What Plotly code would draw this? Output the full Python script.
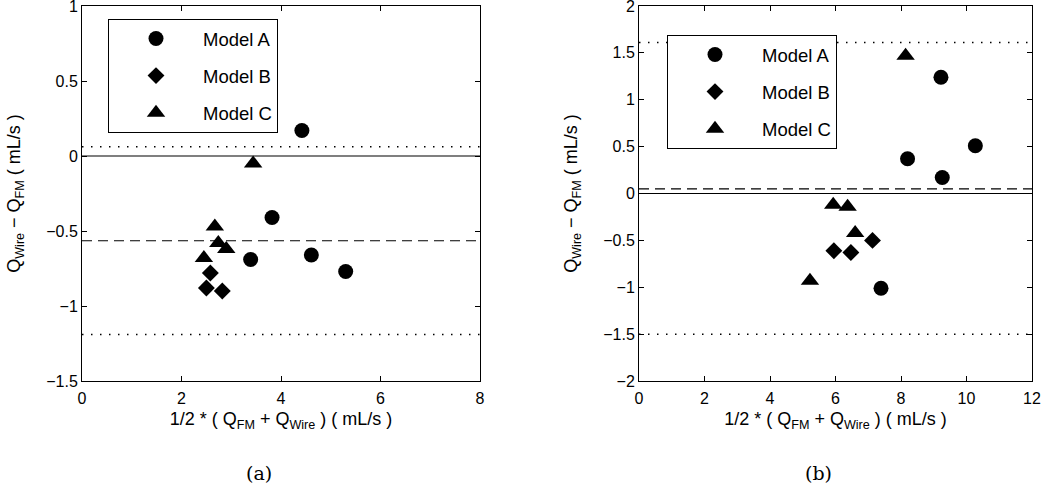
import plotly.graph_objects as go
from plotly.subplots import make_subplots

# ---- panel (a) ----
a_modelA_x = [4.42, 3.82, 3.39, 4.61, 5.30]
a_modelA_y = [0.17, -0.41, -0.69, -0.66, -0.77]
a_modelB_x = [2.58, 2.50, 2.82]
a_modelB_y = [-0.78, -0.88, -0.90]
a_modelC_x = [3.44, 2.67, 2.74, 2.90, 2.45]
a_modelC_y = [-0.05, -0.47, -0.58, -0.62, -0.68]
a_mean = -0.565
a_limits = [0.062, -1.19]

# ---- panel (b) ----
b_modelA_x = [9.22, 8.20, 9.26, 10.27, 7.39]
b_modelA_y = [1.24, 0.37, 0.17, 0.51, -1.01]
b_modelB_x = [5.95, 6.47, 7.13]
b_modelB_y = [-0.61, -0.63, -0.50]
b_modelC_x = [8.14, 5.93, 6.37, 6.60, 5.22]
b_modelC_y = [1.47, -0.12, -0.14, -0.42, -0.93]
b_mean = 0.05
b_limits = [1.61, -1.50]

model_names = ["Model A", "Model B", "Model C"]
symbols = ["circle", "diamond", "triangle-up"]
sizes = [15, 13, 16]

a_x_ticks = [0, 2, 4, 6, 8]
a_y_ticks = [-1.5, -1, -0.5, 0, 0.5, 1]
b_x_ticks = [0, 2, 4, 6, 8, 10, 12]
b_y_ticks = [-2, -1.5, -1, -0.5, 0, 0.5, 1, 1.5, 2]

FONT = "Liberation Sans"
W, H = 1050, 484

fig = make_subplots(rows=1, cols=2)

panels = [
    (1, "legend", [(a_modelA_x, a_modelA_y), (a_modelB_x, a_modelB_y), (a_modelC_x, a_modelC_y)]),
    (2, "legend2", [(b_modelA_x, b_modelA_y), (b_modelB_x, b_modelB_y), (b_modelC_x, b_modelC_y)]),
]
for col, leg, series in panels:
    for i, (xs, ys) in enumerate(series):
        fig.add_trace(go.Scatter(
            x=xs, y=ys, mode="markers", name=model_names[i],
            legend=leg, legendgroup=f"{leg}{i}",
            marker=dict(symbol=symbols[i], size=sizes[i], color="black"),
        ), row=1, col=col)

# zero, mean and limits of agreement
for col, mean, limits in [(1, a_mean, a_limits), (2, b_mean, b_limits)]:
    fig.add_hline(y=0, line=dict(color="black", width=1.2), row=1, col=col)
    fig.add_hline(y=mean, line=dict(color="black", width=1.2, dash="10px,6px"), row=1, col=col)
    for lim in limits:
        fig.add_hline(y=lim, line=dict(color="black", width=1.5, dash="1.5px,7.5px"), row=1, col=col)

axis_common = dict(
    showline=True, linecolor="black", linewidth=1, mirror="ticks", automargin=False,
    ticks="inside", ticklen=5, tickcolor="black", showgrid=False, zeroline=False,
    tickfont=dict(family=FONT, size=16, color="black"), ticklabeloverflow="allow",
)
title_font = dict(family=FONT, size=18, color="black")
ytitle = "Q<sub>Wire</sub> \u2212 Q<sub>FM</sub> ( mL/s )"
xtitle = "1/2 * ( Q<sub>FM</sub> + Q<sub>Wire</sub> ) ( mL/s )"

fig.update_xaxes(axis_common, ticklabelstandoff=3)
fig.update_yaxes(axis_common)
fig.update_xaxes(domain=[82 / W, 480 / W], range=[0, 8], tickvals=a_x_ticks,
                 title=dict(text=xtitle, font=title_font, standoff=6), row=1, col=1)
fig.update_xaxes(domain=[639 / W, 1032 / W], range=[0, 12], tickvals=b_x_ticks,
                 title=dict(text=xtitle, font=title_font, standoff=6), row=1, col=2)
fig.update_yaxes(domain=[1 - 381 / H, 1 - 6 / H], range=[-1.5, 1], tickvals=a_y_ticks,
                 title=dict(text=ytitle, font=title_font, standoff=20), row=1, col=1)
fig.update_yaxes(domain=[1 - 381 / H, 1 - 6 / H], range=[-2, 2], tickvals=b_y_ticks,
                 title=dict(text=ytitle, font=title_font, standoff=20), row=1, col=2)

legend_common = dict(
    bgcolor="white", bordercolor="black", borderwidth=1,
    font=dict(family=FONT, size=18.5, color="black"),
    xanchor="left", yanchor="top", tracegroupgap=10, itemwidth=84,
)
fig.update_layout(
    width=W, height=H,
    margin=dict(l=0, r=0, t=0, b=0),
    paper_bgcolor="white", plot_bgcolor="white",
    showlegend=True,
    legend=dict(legend_common, x=108 / W, y=1 - 19 / H),
    legend2=dict(legend_common, x=667 / W, y=1 - 35 / H),
)

for label, xc in [("(a)", 259 / W), ("(b)", 818 / W)]:
    fig.add_annotation(text=label, x=xc, y=1 - 473 / H, xref="paper", yref="paper",
                       xanchor="center", yanchor="middle", showarrow=False,
                       font=dict(family="DejaVu Serif", size=19, color="black"))

# page body margin would shift the figure by 8px
fig.write_html("out.html", config={"displayModeBar": False},
               post_script="document.body.style.margin='0';")
